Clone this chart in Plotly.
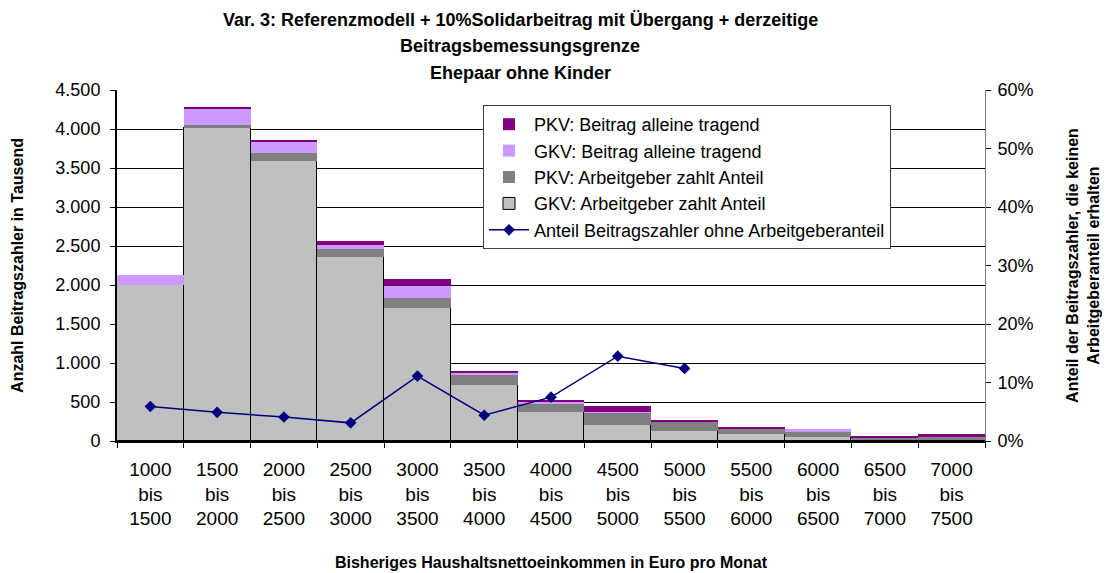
import plotly.graph_objects as go

categories = ["1000<br>bis<br>1500", "1500<br>bis<br>2000", "2000<br>bis<br>2500", "2500<br>bis<br>3000",
              "3000<br>bis<br>3500", "3500<br>bis<br>4000", "4000<br>bis<br>4500", "4500<br>bis<br>5000",
              "5000<br>bis<br>5500", "5500<br>bis<br>6000", "6000<br>bis<br>6500", "6500<br>bis<br>7000",
              "7000<br>bis<br>7500"]

gkv_ag = [2000, 4010, 3586, 2355, 1701, 718, 376, 209, 128, 86, 47, 10, 12]
pkv_ag = [0, 40, 110, 107, 132, 128, 102, 154, 116, 68, 81, 32, 40]
gkv_allein = [130, 205, 137, 51, 158, 30, 18, 10, 0, 0, 22, 0, 0]
pkv_allein = [0, 26, 26, 51, 86, 21, 30, 80, 25, 21, 0, 22, 34]

anteil_cats = categories[:9]
anteil = [0.059, 0.049, 0.041, 0.031, 0.111, 0.044, 0.075, 0.145, 0.124]

y_ticks = [0, 500, 1000, 1500, 2000, 2500, 3000, 3500, 4000, 4500]
y_ticktext = ["0", "500", "1.000", "1.500", "2.000", "2.500", "3.000", "3.500", "4.000", "4.500"]
y2_ticks = [0, 0.1, 0.2, 0.3, 0.4, 0.5, 0.6]
y2_ticktext = ["0%", "10%", "20%", "30%", "40%", "50%", "60%"]

FONT = "Liberation Sans, Arial, sans-serif"

# page offset of the figure inside the browser page (default body margin)
OFF = 8
L, R, T, B = 117, 985, 90, 441   # target plot-area edges on screen
W, H = 1110, 573

fig = go.Figure()
fig.add_trace(go.Bar(x=categories, y=gkv_ag, name="GKV: Arbeitgeber zahlt Anteil",
                     marker=dict(color="#C0C0C0", line=dict(color="#000000", width=1)), legendrank=4))
fig.add_trace(go.Bar(x=categories, y=pkv_ag, name="PKV: Arbeitgeber zahlt Anteil",
                     marker=dict(color="#808080", line=dict(width=0)), legendrank=3))
fig.add_trace(go.Bar(x=categories, y=gkv_allein, name="GKV: Beitrag alleine tragend",
                     marker=dict(color="#CC99FF", line=dict(width=0)), legendrank=2))
fig.add_trace(go.Bar(x=categories, y=pkv_allein, name="PKV: Beitrag alleine tragend",
                     marker=dict(color="#800080", line=dict(width=0)), legendrank=1))
fig.add_trace(go.Scatter(x=anteil_cats, y=anteil, yaxis="y2", mode="lines+markers",
                         name="Anteil Beitragszahler ohne Arbeitgeberanteil",
                         line=dict(color="#000080", width=1.5),
                         marker=dict(symbol="diamond", size=9, color="#000080"), legendrank=5))

fig.update_layout(
    width=W, height=H,
    barmode="stack", bargap=0,
    plot_bgcolor="white", paper_bgcolor="white",
    font=dict(family=FONT, size=18, color="black"),
    margin=dict(l=L - OFF, r=W + OFF - R, t=T - OFF, b=H + OFF - B, pad=0),
    showlegend=True,
    legend=dict(x=(483 - L) / (R - L), y=(B - 105) / (B - T), xanchor="left", yanchor="top",
                traceorder="normal",
                bgcolor="white", bordercolor="#404040", borderwidth=1,
                font=dict(size=18, family=FONT), tracegroupgap=0, itemwidth=40),
    xaxis=dict(type="category", range=[-0.5, len(categories) - 0.5],
               tickson="boundaries", ticks="outside", ticklen=5,
               tickcolor="black", showline=True, linecolor="black", linewidth=2,
               showgrid=False, tickfont=dict(size=19), automargin=False,
               ticklabelstandoff=10,
               title=dict(text="<b>Bisheriges Haushaltsnettoeinkommen in Euro pro Monat</b>",
                          font=dict(size=16), standoff=29)),
    yaxis=dict(range=[0, 4500], tickvals=y_ticks, ticktext=y_ticktext, ticks="outside",
               ticklen=5, tickcolor="black", showline=True, linecolor="black", linewidth=2,
               showgrid=True, gridcolor="black", gridwidth=1, zeroline=False,
               tickfont=dict(size=18), automargin=False, ticklabelstandoff=6,
               title=dict(text="<b>Anzahl Beitragszahler in Tausend</b>", font=dict(size=16), standoff=28)),
    yaxis2=dict(range=[0, 0.6], tickvals=y2_ticks, ticktext=y2_ticktext, overlaying="y", side="right",
                ticks="outside", ticklen=5, tickcolor="black", showline=True, linecolor="#808080",
                linewidth=1, showgrid=False, zeroline=False, tickfont=dict(size=18), automargin=False,
                ticklabelstandoff=3,
                title=dict(text="<b>Anteil der Beitragszahler, die keinen<br>Arbeitgeberanteil erhalten</b>",
                           font=dict(size=16), standoff=34)),
)

title_lines = ["<b>Var. 3: Referenzmodell + 10%Solidarbeitrag mit Übergang + derzeitige</b>",
               "<b>Beitragsbemessungsgrenze</b>",
               "<b>Ehepaar ohne Kinder</b>"]
title_y = [20, 46, 73]
for txt, yy in zip(title_lines, title_y):
    fig.add_annotation(text=txt, xref="paper", yref="paper",
                       x=(520 - L) / (R - L), y=(B - yy) / (B - T),
                       xanchor="center", yanchor="middle", showarrow=False,
                       font=dict(size=18, family=FONT, color="black"))

fig.write_html("out.html")
